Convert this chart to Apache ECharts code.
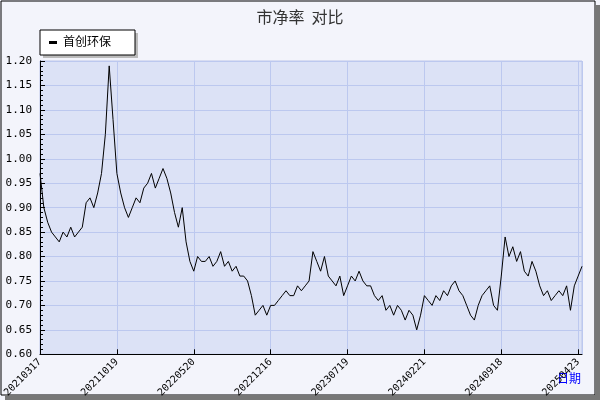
<!DOCTYPE html><html><head><meta charset="utf-8"><script src="https://cdn.jsdelivr.net/npm/echarts@6/dist/echarts.min.js"></script>
<style>body{margin:0}#c{width:600px;height:400px}</style></head><body><div id="c"></div><script>
const tickLabels=['20210317','20211019','20220520','20221216','20230719','20240221','20240918','20250423'];
const values=[0.97,0.90,0.87,0.85,0.84,0.83,0.85,0.84,0.86,0.84,0.85,0.86,0.91,0.92,0.90,0.93,0.97,1.05,1.19,1.08,0.97,
0.93,0.90,0.88,0.90,0.92,0.91,0.94,0.95,0.97,0.94,0.96,0.98,0.96,0.93,0.89,0.86,0.90,0.83,0.79,0.77,
0.80,0.79,0.79,0.80,0.78,0.79,0.81,0.78,0.79,0.77,0.78,0.76,0.76,0.75,0.72,0.68,0.69,0.70,0.68,0.70,
0.70,0.71,0.72,0.73,0.72,0.72,0.74,0.73,0.74,0.75,0.81,0.79,0.77,0.80,0.76,0.75,0.74,0.76,0.72,0.74,
0.76,0.75,0.77,0.75,0.74,0.74,0.72,0.71,0.72,0.69,0.70,0.68,0.70,0.69,0.67,0.69,0.68,0.65,0.68,0.72,
0.71,0.70,0.72,0.71,0.73,0.72,0.74,0.75,0.73,0.72,0.70,0.68,0.67,0.70,0.72,0.73,0.74,0.70,0.69,0.76,
0.84,0.80,0.82,0.79,0.81,0.77,0.76,0.79,0.77,0.74,0.72,0.73,0.71,0.72,0.73,0.72,0.74,0.69,0.74,0.76,0.78];
const seriesName='首创环保';
const font='DejaVu Sans Mono';
const c=echarts.init(document.getElementById('c'));
c.setOption({backgroundColor:'#f3f4fb',animation:false,
title:{text:'市净率  对比',left:'center',top:4,textStyle:{fontSize:16,fontWeight:'normal',color:'#333',fontFamily:'Noto Sans CJK SC'}},
graphic:[{type:'rect',shape:{x:1,y:1,width:594,height:394},style:{fill:null,stroke:'#000',lineWidth:1}},
{type:'rect',shape:{x:595,y:5,width:5,height:395},style:{fill:'#777'}},{type:'rect',shape:{x:5,y:395,width:595,height:5},style:{fill:'#777'}},
{type:'rect',shape:{x:43,y:33,width:95,height:25},style:{fill:'#bbb'}},
{type:'rect',shape:{x:40,y:30,width:95,height:25},style:{fill:'#fff',stroke:'#000'}},
{type:'rect',shape:{x:49,y:41,width:8,height:3},style:{fill:'#000'}},
{type:'text',x:63,y:35,style:{text:seriesName,fontSize:12,fill:'#000',fontFamily:'Noto Sans CJK SC'}},
{type:'text',x:557,y:372,style:{text:'日期',fontSize:12,fill:'#00f',fontFamily:'Noto Sans CJK SC'}}],
grid:{left:40,right:18,top:61,bottom:42,show:true,backgroundColor:'#dce2f6',borderColor:'#bcc6e8'},
xAxis:{type:'value',min:0,max:141,interval:20,
axisLine:{lineStyle:{color:'#000'}},axisTick:{length:-5,lineStyle:{color:'#000'}},
splitLine:{lineStyle:{color:'#bcc8ef'}},
axisLabel:{rotate:45,fontSize:10,color:'#000',fontFamily:font,margin:6,showMaxLabel:false,formatter:v=>tickLabels[v/20]||''}},
yAxis:{type:'value',min:0.6,max:1.2,interval:0.05,
axisLine:{show:true,lineStyle:{color:'#000'}},axisTick:{inside:true,length:5,lineStyle:{color:'#000'}},
minorTick:{show:true,splitNumber:5,length:3,lineStyle:{color:'#000'}},
splitLine:{lineStyle:{color:'#bcc8ef'}},axisLabel:{fontSize:11,color:'#000',fontFamily:font,formatter:v=>v.toFixed(2)}},
series:[{name:seriesName,type:'line',data:values.map((v,i)=>[i,v]),showSymbol:false,lineStyle:{color:'#000',width:1}}]});
</script></body></html>
